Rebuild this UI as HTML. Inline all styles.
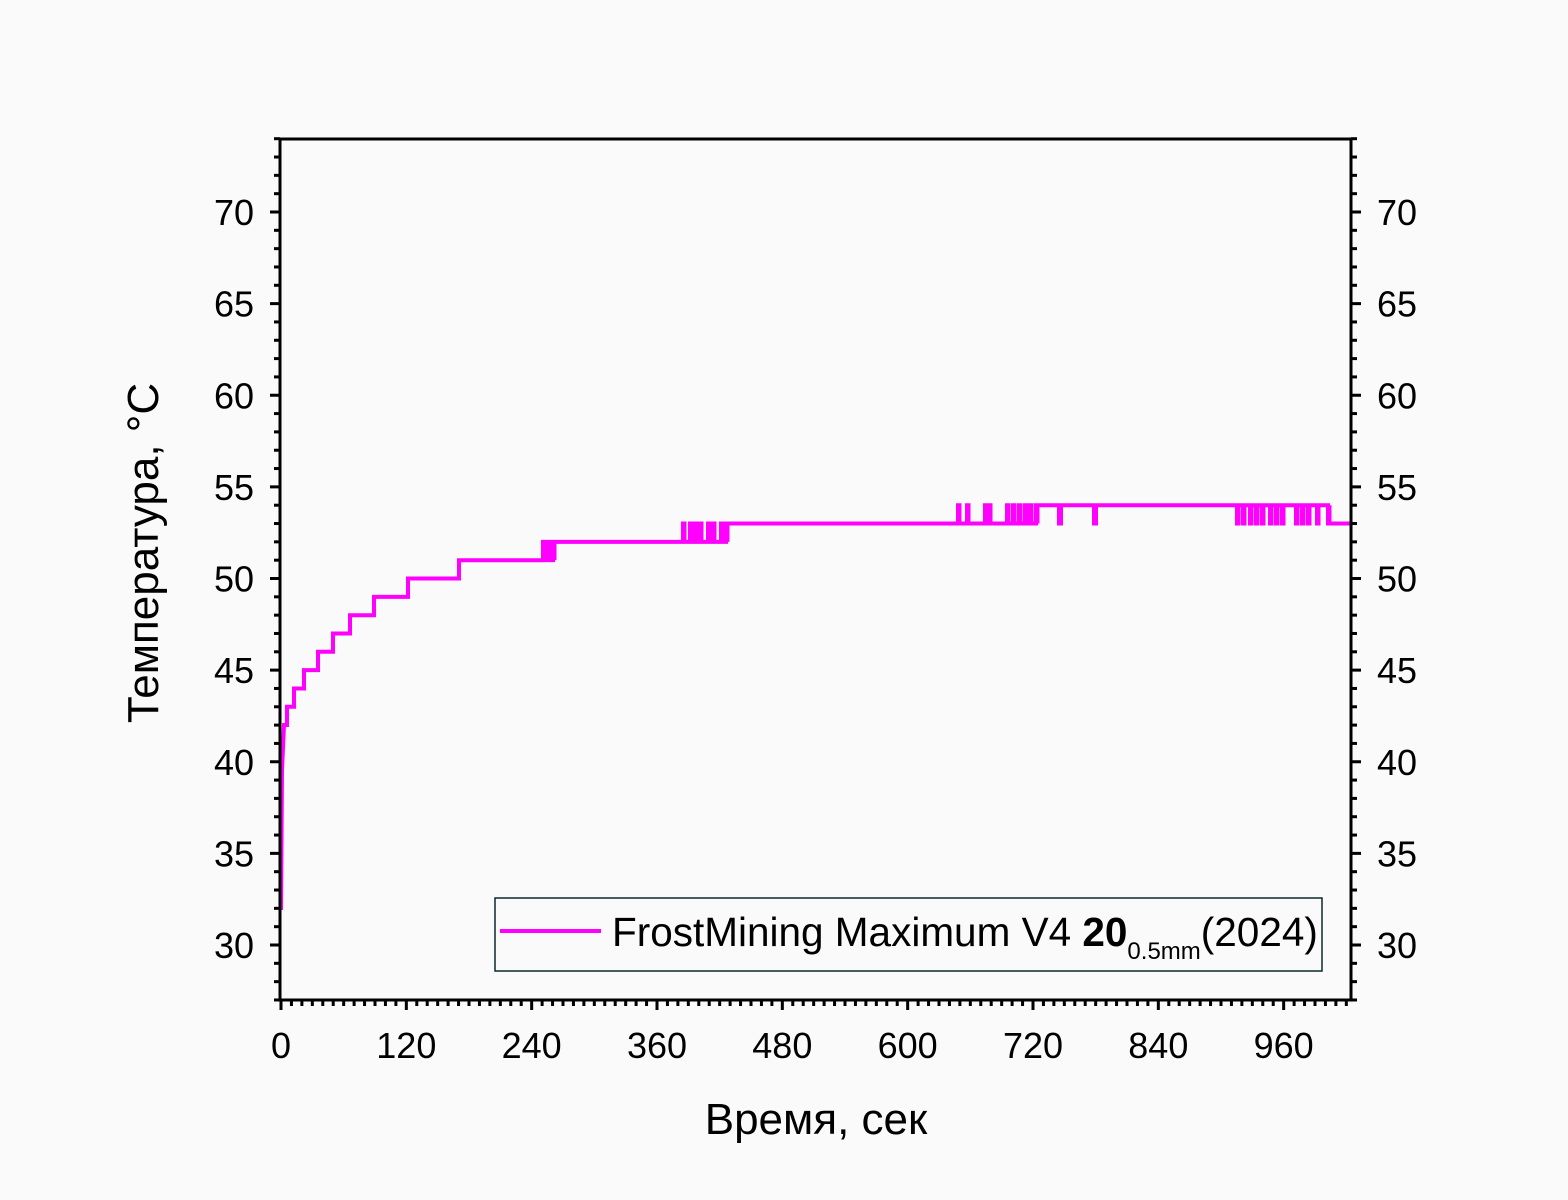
<!DOCTYPE html>
<html><head><meta charset="utf-8"><style>
html,body{margin:0;padding:0;background:#fafafa;}
svg{display:block;font-family:"Liberation Sans",Arial,sans-serif;}
</style></head><body>
<svg id="s" width="1568" height="1200" xmlns="http://www.w3.org/2000/svg">
<rect width="1568" height="1200" fill="#fafafa"/>
<g id="ticks" stroke="#000" stroke-width="3"></g>
<g id="labels" font-size="36" fill="#000"></g>
<path id="d" fill="none" stroke="#ff00ff" stroke-width="4" stroke-linejoin="miter"/>
<rect x="280" y="139" width="1071" height="861" fill="none" stroke="#000" stroke-width="3"/>
<rect x="495" y="898" width="827" height="73" fill="#fafafa" stroke="#0a2a2a" stroke-width="1.5"/>
<line x1="500" y1="931" x2="601" y2="931" stroke="#ff00ff" stroke-width="4"/>
<text x="612" y="946" font-size="40.5">FrostMining Maximum V4 <tspan font-weight="bold">20</tspan><tspan font-size="24" dy="13">0.5mm</tspan><tspan dy="-13">(2024)</tspan></text>
<text x="816" y="1134" font-size="44" text-anchor="middle">Время, сек</text>
<text transform="translate(158,553) rotate(-90)" font-size="44" text-anchor="middle">Температура, °C</text>
</svg>
<script>
var NS="http://www.w3.org/2000/svg";
function px(t){return 281+t*1.04444;}
function py(v){return 945-(v-30)*18.325;}
var tg=document.getElementById('ticks'),lg=document.getElementById('labels');
function L(x1,y1,x2,y2){var l=document.createElementNS(NS,'line');l.setAttribute('x1',x1);l.setAttribute('y1',y1);l.setAttribute('x2',x2);l.setAttribute('y2',y2);tg.appendChild(l);}
function T(x,y,s,a){var t=document.createElementNS(NS,'text');t.setAttribute('x',x);t.setAttribute('y',y);t.setAttribute('text-anchor',a);t.textContent=s;lg.appendChild(t);}
for(var v=27;v<=74;v++){var y=py(v);var maj=(v%5==0);var len=maj?10:6;
 L(280,y,280-len,y);L(1351,y,1351+len,y);
 if(maj&&v>=30&&v<=70){T(254,y+13,String(v),'end');T(1377,y+13,String(v),'start');}}
for(var t=0;t<=1020;t+=10){var x=px(t);var maj=(t%120==0);L(x,1000,x,1000+(maj?10:6));
 if(maj)T(x,1058,String(t),'middle');}
var d="M281,910 L282,770 L284,725 H287 V706.8 H294 V688.5 H304 V670.1 H318 V651.8 H333 V633.5 H350 V615.2 H374 V596.9 H408 V578.5 H459 V560.2 ";
var y51=py(51),y52=py(52),y53=py(53),y54=py(54);
function noise(xs,lo,hi){var s="";xs.forEach(function(x){s+="H"+x+" V"+hi+" H"+(x+1.5)+" V"+lo+" ";});return s;}
d+="H543 "+noise([543,548,553],y51,y52)+"V"+y52+" ";
d+="H683 "+noise([683,690,695,700,708,713,721,726],y52,y53)+"V"+y53+" ";
d+="H958 "+noise([958,967,985,989,1007,1013,1019,1025,1030,1036],y53,y54)+"V"+y54+" ";
d+="H1059 V"+y53+" H1061 V"+y54+" H1094 V"+y53+" H1096 V"+y54+" H1237 ";
d+=noise([1237,1243,1250,1256,1262,1270,1276,1282,1296,1302,1308,1317,1328],y54,y53);
d+="V"+y53+" H1351";
document.getElementById('d').setAttribute('d',d);
</script>
</body></html>
